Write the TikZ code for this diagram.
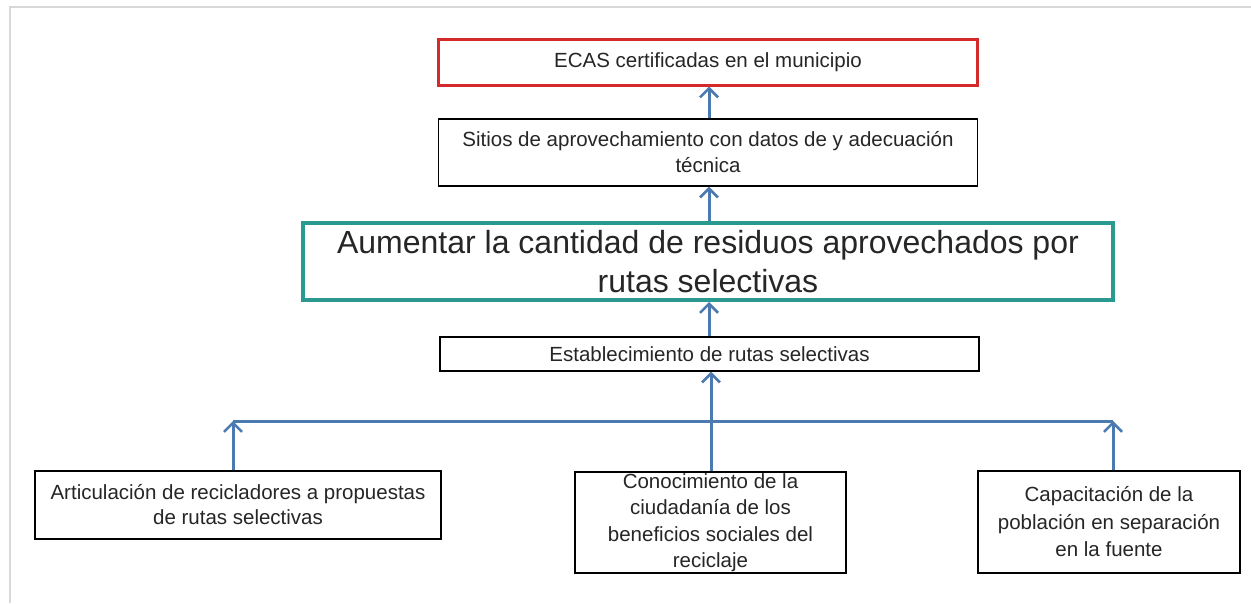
\documentclass[tikz,border=0pt]{standalone}
\usepackage{fontspec}
\setmainfont{Liberation Sans}
\usetikzlibrary{arrows.meta}
\definecolor{arrowblue}{HTML}{4A7AB0}
\definecolor{tealc}{HTML}{2A9A90}
\definecolor{redc}{HTML}{D42A2A}
\definecolor{framegray}{HTML}{D8D8D8}
\tikzset{
  box/.style={draw=black, line width=1.2pt, inner sep=0pt, align=center, text=black!85,
    font=\fontsize{20.5}{26}\selectfont},
  conn/.style={draw=arrowblue, line width=3pt},
  arr/.style={conn, -{Straight Barb[length=9pt,width=18pt,line width=2.6pt]}},
}
\begin{document}
\begin{tikzpicture}[x=1pt,y=-1pt]
\useasboundingbox (0,0) rectangle (1251,603);
\fill[white] (0,0) rectangle (1251,603);
\draw[framegray, line width=1.5pt] (10,603) -- (10,7) -- (1251,7);

\node[box, draw=redc, line width=3pt, minimum width=539pt, minimum height=46pt] (ecas) at (708,62) {ECAS certificadas en el municipio};
\node[box, minimum width=539pt, minimum height=67pt] (sitios) at (708,152.5) {Sitios de aprovechamiento con datos de y adecuación\\técnica};
\node[box, draw=tealc, line width=4pt, minimum width=810pt, minimum height=77pt, font=\fontsize{32}{39}\selectfont] (main) at (708,261.5) {Aumentar la cantidad de residuos aprovechados por\\rutas selectivas};
\node[box, minimum width=539pt, minimum height=34pt] (estab) at (709.5,354) {Establecimiento de rutas selectivas};
\node[box, minimum width=406pt, minimum height=68pt, font=\fontsize{20.5}{25}\selectfont] (art) at (238,505) {Articulación de recicladores a propuestas\\de rutas selectivas};
\node[box, minimum width=271pt, minimum height=101pt, font=\fontsize{20.5}{26.5}\selectfont] (con) at (710.5,522.5) {Conocimiento de la\\ciudadanía de los\\beneficios sociales del\\reciclaje};
\node[box, minimum width=262pt, minimum height=102pt, font=\fontsize{20.5}{27.5}\selectfont] (cap) at (1109,522) {Capacitación de la\\población en separación\\en la fuente};

\coordinate (hl) at (233,421);
\coordinate (hr) at (1113,421);

\draw[arr] (sitios.north -| 709,0) -- (ecas.south -| 709,0);
\draw[arr] (main.north -| 709,0) -- (sitios.south -| 709,0);
\draw[arr] (estab.north -| 709,0) -- (main.south -| 709,0);
\draw[arr] (con.north -| 711,0) -- (estab.south -| 711,0);
\draw[conn] (hl) -- (hr);
\draw[arr] (art.north -| hl) -- (hl);
\draw[arr] (cap.north -| hr) -- (hr);
\end{tikzpicture}
\end{document}
